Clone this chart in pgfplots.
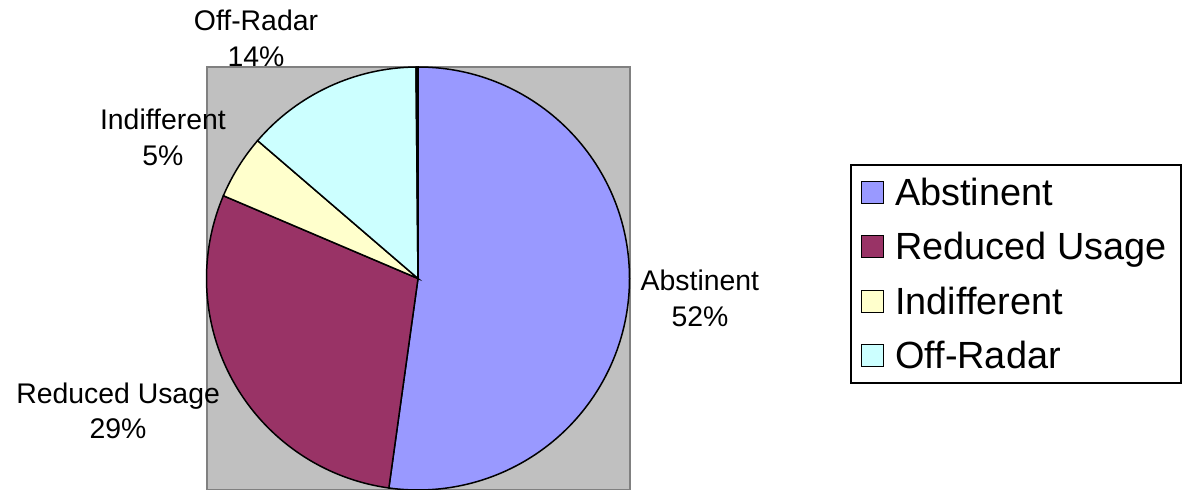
\documentclass[border=0pt]{standalone}
\usepackage{pgfplots}
\pgfplotsset{compat=1.18}
\usepackage{fontspec}
\setmainfont{Liberation Sans}
\definecolor{cAbs}{HTML}{9999FF}
\definecolor{cRed}{HTML}{993366}
\definecolor{cInd}{HTML}{FFFFCC}
\definecolor{cOff}{HTML}{CCFFFF}
\definecolor{cBg}{HTML}{C0C0C0}
\definecolor{cFrame}{HTML}{808080}
\begin{document}
\begin{tikzpicture}
\useasboundingbox (0,0) rectangle (594.5bp,245bp);
% shares in percent
\def\pAbs{52.2}\def\pRed{29.2}\def\pInd{4.9}\def\pOff{13.55}\def\pOth{0.15}
\pgfmathsetmacro\aA{90-3.6*\pAbs}
\pgfmathsetmacro\aB{\aA-3.6*\pRed}
\pgfmathsetmacro\aC{\aB-3.6*\pInd}
\pgfmathsetmacro\aD{\aC-3.6*\pOff}
\pgfmathsetmacro\aE{\aD-3.6*\pOth}
\begin{axis}[
  at={(209bp,105.75bp)}, anchor=center,
  scale only axis, width=211.5bp, height=211.5bp,
  xmin=-1, xmax=1, ymin=-1, ymax=1,
  xtick=\empty, ytick=\empty, clip=false,
  axis background/.style={fill=cBg},
  axis line style={draw=cFrame, line width=1bp},
  legend cell align=left,
  legend image code/.code={\filldraw[#1, line width=0.6bp] (0bp,-5.5bp) rectangle (11bp,5.5bp);},
  legend style={
    at={(1.5213,0.7707)}, anchor=north west,
    draw=black, line width=1bp, fill=white,
    inner xsep=5bp, inner ysep=2.75bp,
    row sep=5.2bp, column sep=3.5bp,
    nodes={inner sep=2bp, text height=15.5bp, text depth=2.5bp,
           font=\fontsize{19}{22}\selectfont},
  },
]
\addlegendimage{fill=cAbs, draw=black}\addlegendentry{Abstinent}
\addlegendimage{fill=cRed, draw=black}\addlegendentry{Reduced Usage}
\addlegendimage{fill=cInd, draw=black}\addlegendentry{Indifferent}
\addlegendimage{fill=cOff, draw=black}\addlegendentry{Off-Radar}

\filldraw[fill=cAbs, draw=black, line width=0.75bp] (axis cs:0,0) -- (axis cs:0,1)
  arc[start angle=90, end angle=\aA, radius=105.75bp] -- cycle;
\filldraw[fill=cRed, draw=black, line width=0.75bp] (axis cs:0,0) -- (axis cs:{cos(\aA)},{sin(\aA)})
  arc[start angle=\aA, end angle=\aB, radius=105.75bp] -- cycle;
\filldraw[fill=cInd, draw=black, line width=0.75bp] (axis cs:0,0) -- (axis cs:{cos(\aB)},{sin(\aB)})
  arc[start angle=\aB, end angle=\aC, radius=105.75bp] -- cycle;
\filldraw[fill=cOff, draw=black, line width=0.75bp] (axis cs:0,0) -- (axis cs:{cos(\aC)},{sin(\aC)})
  arc[start angle=\aC, end angle=\aD, radius=105.75bp] -- cycle;
\filldraw[fill=black, draw=black, line width=0.75bp] (axis cs:0,0) -- (axis cs:{cos(\aD)},{sin(\aD)})
  arc[start angle=\aD, end angle=\aE, radius=105.75bp] -- cycle;

\begin{scope}[every node/.style={align=center, font=\fontsize{14.25}{18}\selectfont}]
\node at (axis cs:1.333,-0.0946) {Abstinent\\52\%};
\node at (axis cs:-1.418,-0.626) {Reduced Usage\\29\%};
\node at (axis cs:-1.206,0.669) {Indifferent\\5\%};
\node at (axis cs:-0.766,1.135) {Off-Radar\\14\%};
\end{scope}
\end{axis}
\end{tikzpicture}
\end{document}
